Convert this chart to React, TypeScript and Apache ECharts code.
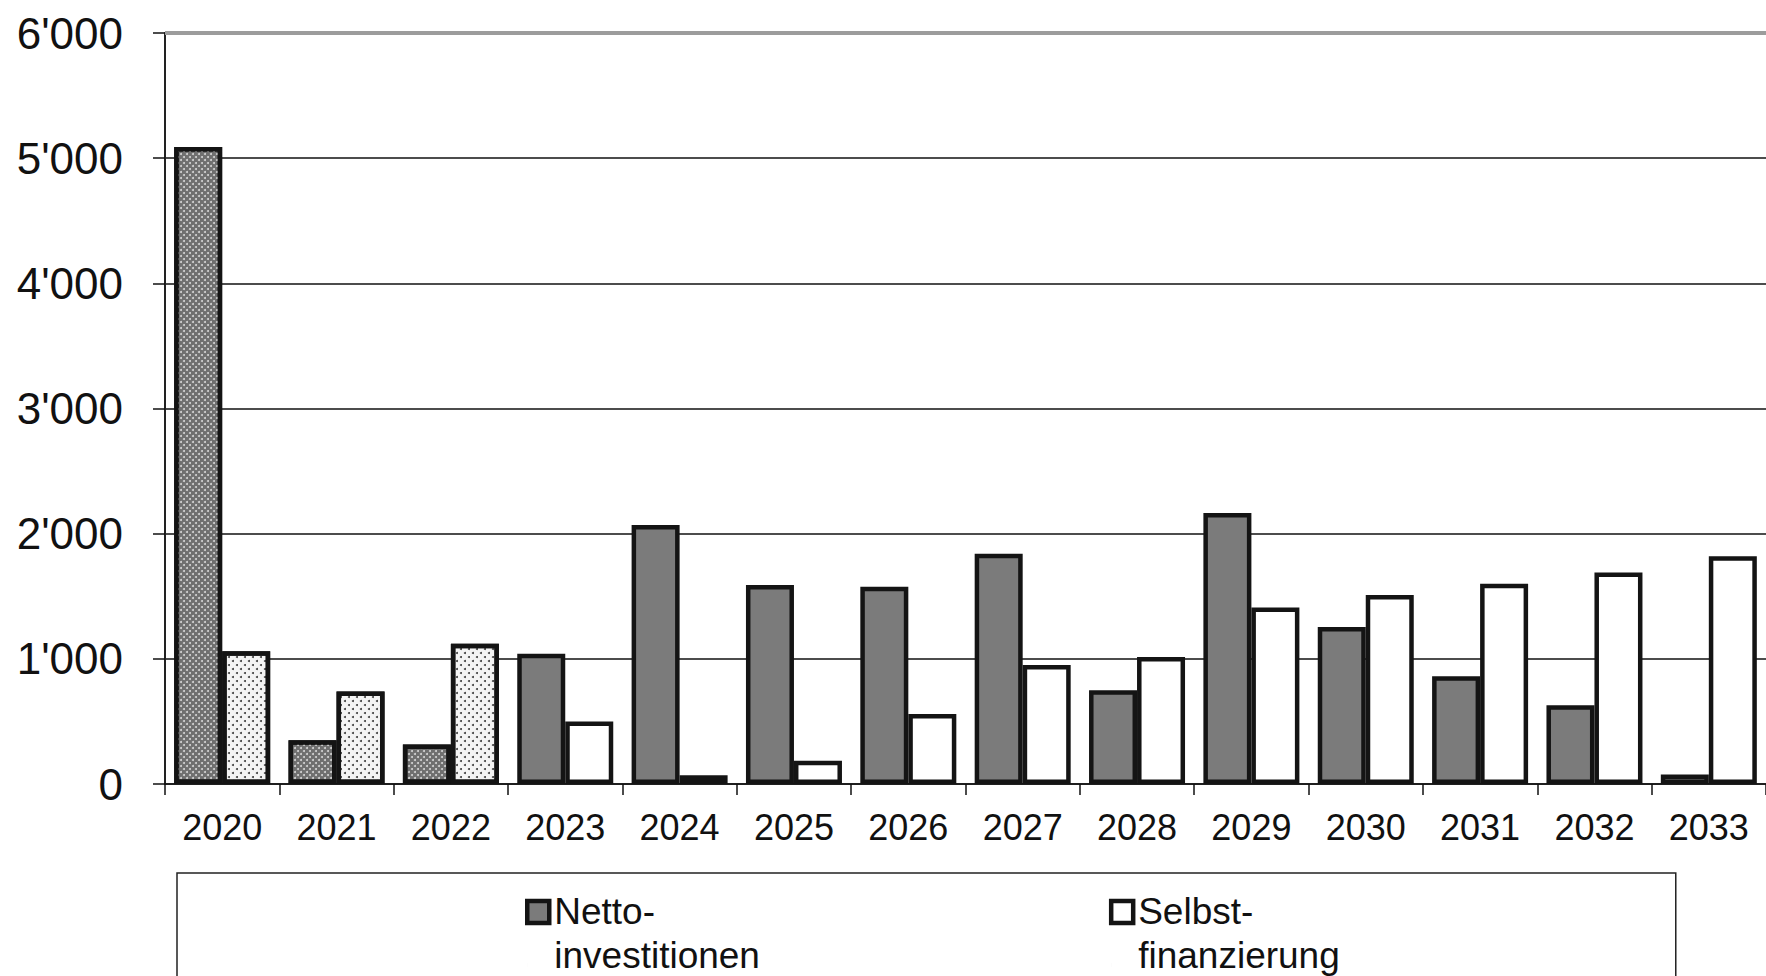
import React, { useEffect, useRef } from "react";
import * as echarts from "echarts";

const years = ["2020", "2021", "2022", "2023", "2024", "2025", "2026", "2027", "2028", "2029", "2030", "2031", "2032", "2033"];
const nettoValues = [5090, 350, 315, 1040, 2070, 1590, 1575, 1840, 750, 2165, 1255, 860, 630, 75];
const selbstValues = [1060, 740, 1120, 500, 70, 185, 560, 950, 1015, 1410, 1510, 1600, 1690, 1820];
const patternedYears = ["2020", "2021", "2022"];
const seriesNames = ["Netto-\ninvestitionen", "Selbst-\nfinanzierung"];
const yTicks = { min: 0, max: 6000, interval: 1000 };

const FONT = "'Liberation Sans', Arial, sans-serif";

const darkDecal = {
  symbol: "circle",
  symbolSize: 1,
  color: "rgba(255,255,255,0.7)",
  dashArrayX: [[2, 4], [0, 3, 2, 1]],
  dashArrayY: [2, 1],
  rotation: 0,
};
const lightDecal = {
  symbol: "circle",
  symbolSize: 1,
  color: "rgba(0,0,0,0.75)",
  dashArrayX: [[2, 6], [0, 4, 2, 2]],
  dashArrayY: [2, 2],
  rotation: 0,
};

function fmt(v: number): string {
  if (v === 0) return "0";
  const th = Math.floor(v / 1000);
  const rest = String(v % 1000).padStart(3, "0");
  return `${th}'${rest}`;
}

export default function App() {
  const ref = useRef<HTMLDivElement>(null);
  useEffect(() => {
    if (!ref.current) return;
    const chart = echarts.init(ref.current, null, { renderer: "svg" });
    const nettoData = years.map((y, i) =>
      patternedYears.includes(y)
        ? { value: nettoValues[i], itemStyle: { color: "#6f6f6f", decal: darkDecal } }
        : { value: nettoValues[i] }
    );
    const selbstData = years.map((y, i) =>
      patternedYears.includes(y)
        ? { value: selbstValues[i], itemStyle: { color: "#f4f4f4", decal: lightDecal } }
        : { value: selbstValues[i] }
    );
    chart.setOption({
      animation: false,
      backgroundColor: "#ffffff",
      textStyle: { fontFamily: FONT },
      grid: { left: 165, top: 33, bottom: 192, right: -7, containLabel: false },
      legend: {
        left: 177,
        top: 873,
        orient: "horizontal",
        padding: [16, 336, 25, 348],
        itemGap: 349,
        itemWidth: 22,
        itemHeight: 64,
        icon: "path://M0,0 L22,0 L22,22 L0,22 Z M0,64 L0.01,64",
        borderColor: "#222",
        borderWidth: 1.5,
        borderRadius: 0,
        itemStyle: { borderWidth: 4.5, borderColor: "#141414" },
        textStyle: { fontFamily: FONT, fontSize: 37, lineHeight: 44, color: "#111" },
        data: seriesNames,
      },
      xAxis: {
        type: "category",
        data: years,
        axisLine: { show: true, lineStyle: { color: "#111", width: 1.5 } },
        axisTick: { show: true, length: 11, lineStyle: { color: "#111", width: 1.5 } },
        axisLabel: { fontFamily: FONT, fontSize: 36, color: "#111", margin: 25, interval: 0 },
      },
      yAxis: {
        type: "value",
        min: yTicks.min,
        max: yTicks.max,
        interval: yTicks.interval,
        axisLine: { show: true, lineStyle: { color: "#222", width: 2 } },
        axisTick: { show: true, length: 12, lineStyle: { color: "#111", width: 1.5 } },
        axisLabel: { fontFamily: FONT, fontSize: 44, color: "#111", margin: 42, formatter: fmt },
        splitLine: { show: true, lineStyle: { color: "#111", width: 1.5 } },
      },
      series: [
        {
          name: seriesNames[0],
          type: "bar",
          data: nettoData,
          barWidth: 48,
          barGap: "0%",
          itemStyle: { color: "#7b7b7b", borderColor: "#141414", borderWidth: 4.5 },
        },
        {
          name: seriesNames[1],
          type: "bar",
          data: selbstData,
          barWidth: 48,
          barGap: "0%",
          itemStyle: { color: "#ffffff", borderColor: "#141414", borderWidth: 4.5 },
          markLine: {
            silent: true,
            symbol: ["none", "none"],
            label: { show: false },
            lineStyle: { color: "#9c9c9c", width: 4, type: "solid" },
            data: [{ yAxis: yTicks.max }],
          },
        },
      ],
    });
    return () => chart.dispose();
  }, []);
  return (
    <div
      ref={ref}
      style={{ position: "absolute", left: 0, top: 0, width: 1766, height: 976, overflow: "hidden" }}
    />
  );
}
